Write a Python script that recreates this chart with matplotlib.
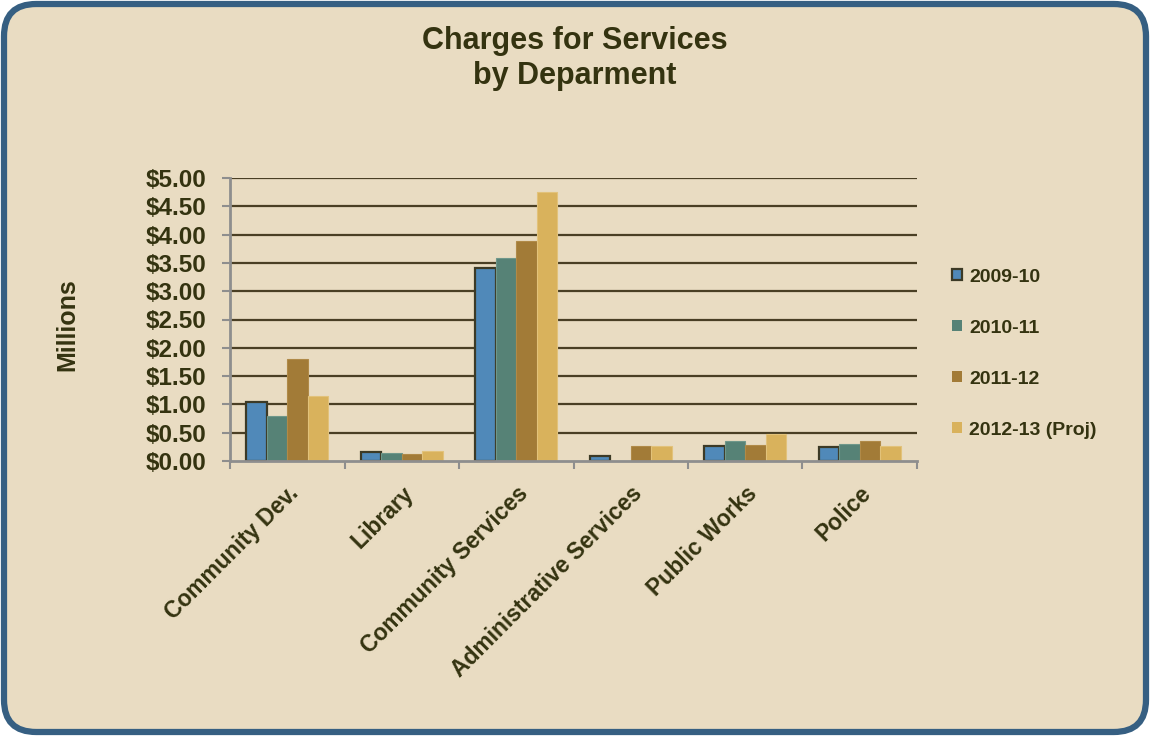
import matplotlib
matplotlib.use("Agg")
import matplotlib.pyplot as plt
import numpy as np
from matplotlib.patches import FancyBboxPatch, Patch

# Department charges, in millions of dollars
departments = ["Community Dev.", "Library", "Community Services",
               "Administrative Services", "Public Works", "Police"]
years = ["2009-10", "2010-11", "2011-12", "2012-13 (Proj)"]
fy_2009_10 = [1.05, 0.16, 3.41, 0.08, 0.27, 0.25]
fy_2010_11 = [0.80, 0.14, 3.59, 0.00, 0.35, 0.30]
fy_2011_12 = [1.80, 0.12, 3.89, 0.27, 0.28, 0.35]
fy_2012_13 = [1.15, 0.18, 4.75, 0.26, 0.48, 0.27]
y_ticks = [0.0, 0.5, 1.0, 1.5, 2.0, 2.5, 3.0, 3.5, 4.0, 4.5, 5.0]

series = [fy_2009_10, fy_2010_11, fy_2011_12, fy_2012_13]
colors = ["#5089b9", "#568276", "#a27b37", "#d9b25c"]
edges = ["#3c3a26", "#6f978a", "#b08a48", "#e2c27a"]
edge_w = [1.6, 0.8, 0.8, 0.8]

bg = "#e9dcc2"
text_col = "#343310"
grid_col = "#4a3f24"
axis_col = "#8e8e8e"

plt.rcParams["font.family"] = ["Liberation Sans", "DejaVu Sans"]
plt.rcParams["font.weight"] = "bold"

fig = plt.figure(figsize=(11.5, 7.36), dpi=100)
fig.patch.set_facecolor("white")

# rounded panel with blue border
panel = FancyBboxPatch((4 / 1150, 4 / 736), 1 - 8 / 1150, 1 - 8 / 736,
                       boxstyle="round,pad=0,rounding_size=0.028",
                       transform=fig.transFigure, facecolor=bg,
                       edgecolor="#365f82", linewidth=4.5, zorder=-5,
                       mutation_aspect=1150 / 736)
fig.patches.append(panel)

ax = fig.add_axes([230 / 1150, 1 - 461 / 736, (917 - 230) / 1150, (461 - 178) / 736])
ax.set_facecolor("none")
ax.set_zorder(2)

x = np.arange(len(departments))
bw = 0.18
offsets = (np.arange(len(series)) - 1.5) * bw
for vals, off, fc, ec, lw, lab in zip(series, offsets, colors, edges, edge_w, years):
    ax.bar(x + off, vals, width=bw, color=fc, edgecolor=ec, linewidth=lw,
           zorder=3, label=lab)

ax.set_xlim(-0.5, len(departments) - 0.5)
ax.set_ylim(0, 5.0)
ax.set_yticks(y_ticks)
ax.set_yticklabels([f"${v:.2f}" for v in y_ticks], fontsize=17.5,
                   fontweight="bold", color=text_col)
for v in y_ticks[1:]:
    ax.axhline(v, color=grid_col, linewidth=1.6, zorder=1)

ax.set_xticks(np.arange(len(departments) + 1) - 0.5, minor=False)
ax.set_xticklabels([])
ax.set_xticks(x, minor=True)
ax.set_xticklabels(departments, minor=True, rotation=45, ha="right",
                   rotation_mode="anchor", fontsize=16.5, fontweight="bold",
                   color=text_col)
ax.tick_params(axis="x", which="major", length=6, width=1.5, color=axis_col,
               direction="out")
ax.tick_params(axis="x", which="minor", length=0, pad=15)
ax.tick_params(axis="y", length=6, width=1.5, color=axis_col, pad=11)

for s in ["top", "right"]:
    ax.spines[s].set_visible(False)
for s in ["left", "bottom"]:
    ax.spines[s].set_color(axis_col)
    ax.spines[s].set_linewidth(2)
    ax.spines[s].set_zorder(4)

fig.text(67 / 1150, 1 - 325 / 736, "Millions", rotation=90, ha="center",
         va="center", fontsize=18, fontweight="bold", color=text_col)

fig.text(0.5, 1 - 41 / 736, "Charges for Services", ha="center", va="center",
         fontsize=22, fontweight="bold", color=text_col)
fig.text(0.5, 1 - 76 / 736, "by Deparment", ha="center", va="center",
         fontsize=22, fontweight="bold", color=text_col)

handles = [Patch(facecolor=c, edgecolor=(e if i == 0 else c), linewidth=(1.6 if i == 0 else 0))
           for i, (c, e) in enumerate(zip(colors, edges))]
leg = fig.legend(handles, years, loc="upper left",
                 bbox_to_anchor=(934 / 1150, 1 - 251 / 736), frameon=False,
                 handlelength=0.52, handleheight=0.52, handletextpad=0.4,
                 labelspacing=1.75, prop={"weight": "bold", "size": 14})
for t in leg.get_texts():
    t.set_color(text_col)

fig.savefig("out.png", dpi=100, facecolor=fig.get_facecolor())
